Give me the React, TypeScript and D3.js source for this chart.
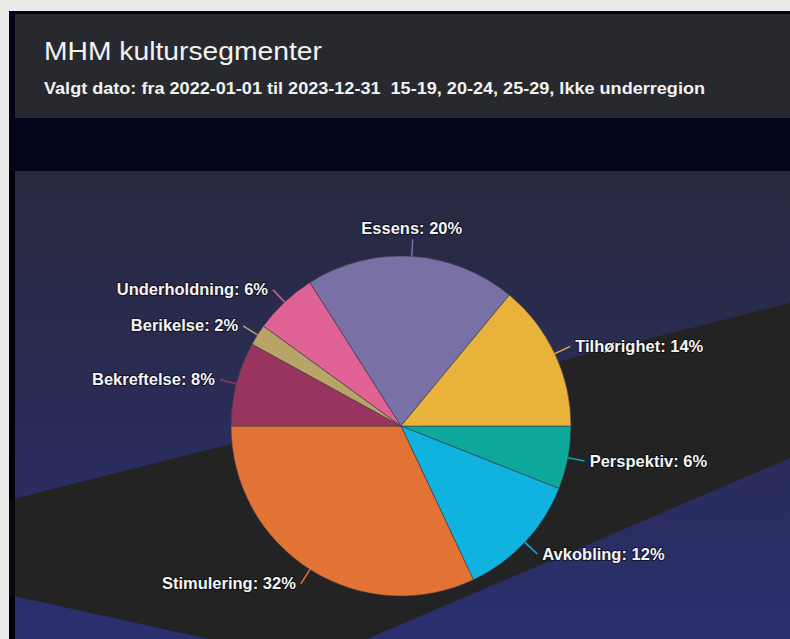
import React from "react";
import * as d3 from "d3";

// slices in drawing order, clockwise from 3 o'clock
const categories = ["Perspektiv", "Avkobling", "Stimulering", "Bekreftelse", "Berikelse", "Underholdning", "Essens", "Tilhørighet"];
const shares = [6, 12, 32, 8, 2, 6, 20, 14];
const sliceColors = ["#0da89b", "#10b2df", "#e37335", "#97355e", "#b9a467", "#e06294", "#7970a6", "#e9b23a"];

const title = "MHM kultursegmenter";
const subtitle = "Valgt dato: fra 2022-01-01 til 2023-12-31  15-19, 20-24, 25-29, Ikke underregion";

const W = 790;
const H = 639;
const cx = 401;
const cy = 426;
const radius = 170;
const labelDist = 17;

const font = "'Liberation Sans', Arial, sans-serif";

export default function App() {
  const pie = d3
    .pie<number>()
    .sort(null)
    .value((d) => d)
    .startAngle(Math.PI / 2)
    .endAngle(Math.PI / 2 + Math.PI * 2);
  const arcs = pie(shares);
  const arc = d3.arc<d3.PieArcDatum<number>>().innerRadius(0).outerRadius(radius);

  return (
    <svg
      width={W}
      height={H}
      style={{ position: "absolute", left: 0, top: 0, display: "block" }}
      fontFamily={font}
    >
      <defs>
        <linearGradient id="panelBg" x1="0" y1="0" x2="0" y2="1">
          <stop offset="0%" stopColor="#28293f" />
          <stop offset="100%" stopColor="#2b2f6e" />
        </linearGradient>
      </defs>
      <rect width={W} height={H} fill="#ebebe9" />
      <rect x={9} y={11} width={W - 9} height={H - 11} fill="#03041a" />

      {/* header */}
      <rect x={15} y={14} width={W - 15} height={104} fill="#28292f" />
      <text x={44} y={59.5} fill="#f2f2f2" fontSize={26} textLength={278} lengthAdjust="spacingAndGlyphs">
        {title}
      </text>
      <text
        x={44}
        y={94}
        fill="#f2f2f2"
        fontSize={16}
        fontWeight="bold"
        textLength={661}
        lengthAdjust="spacingAndGlyphs"
        style={{ whiteSpace: "pre" }}
      >
        {subtitle}
      </text>

      {/* chart panel */}
      <rect x={15} y={171} width={W - 15} height={H - 171} fill="url(#panelBg)" />
      <polygon points="9,500 790,303 790,458 367,639 209,639 9,595" fill="#232323" />
      <rect x={9} y={171} width={6} height={H - 171} fill="#00000a" opacity={0.75} />

      <g transform={`translate(${cx},${cy})`}>
        {arcs.map((a, i) => (
          <path key={categories[i]} d={arc(a) || ""} fill={sliceColors[i]} stroke="#3a3a4a" strokeWidth={0.6} />
        ))}
        {arcs.map((a, i) => {
          const mid = (a.startAngle + a.endAngle) / 2;
          const s = Math.sin(mid);
          const c = -Math.cos(mid);
          const x0 = s * radius;
          const y0 = c * radius;
          const x1 = s * (radius + labelDist);
          const y1 = c * (radius + labelDist);
          const top = Math.abs(s) < 0.25;
          const anchor = top ? "middle" : s > 0 ? "start" : "end";
          const tx = top ? x1 - 1 : x1 + (s > 0 ? 5 : -5);
          const ty = top ? y1 - 5 : y1 + 5.5;
          return (
            <g key={"l" + categories[i]}>
              <path d={`M${x0},${y0}L${x1},${y1}`} stroke={sliceColors[i]} strokeWidth={1.5} fill="none" />
              <text
                x={tx}
                y={ty}
                textAnchor={anchor}
                fontSize={16.5}
                fontWeight="bold"
                fill="#f4f4f4"
                stroke="rgba(0,0,0,0.55)"
                strokeWidth={2}
                strokeLinejoin="round"
                paintOrder="stroke"
              >
                {`${categories[i]}: ${shares[i]}%`}
              </text>
            </g>
          );
        })}
      </g>
    </svg>
  );
}
